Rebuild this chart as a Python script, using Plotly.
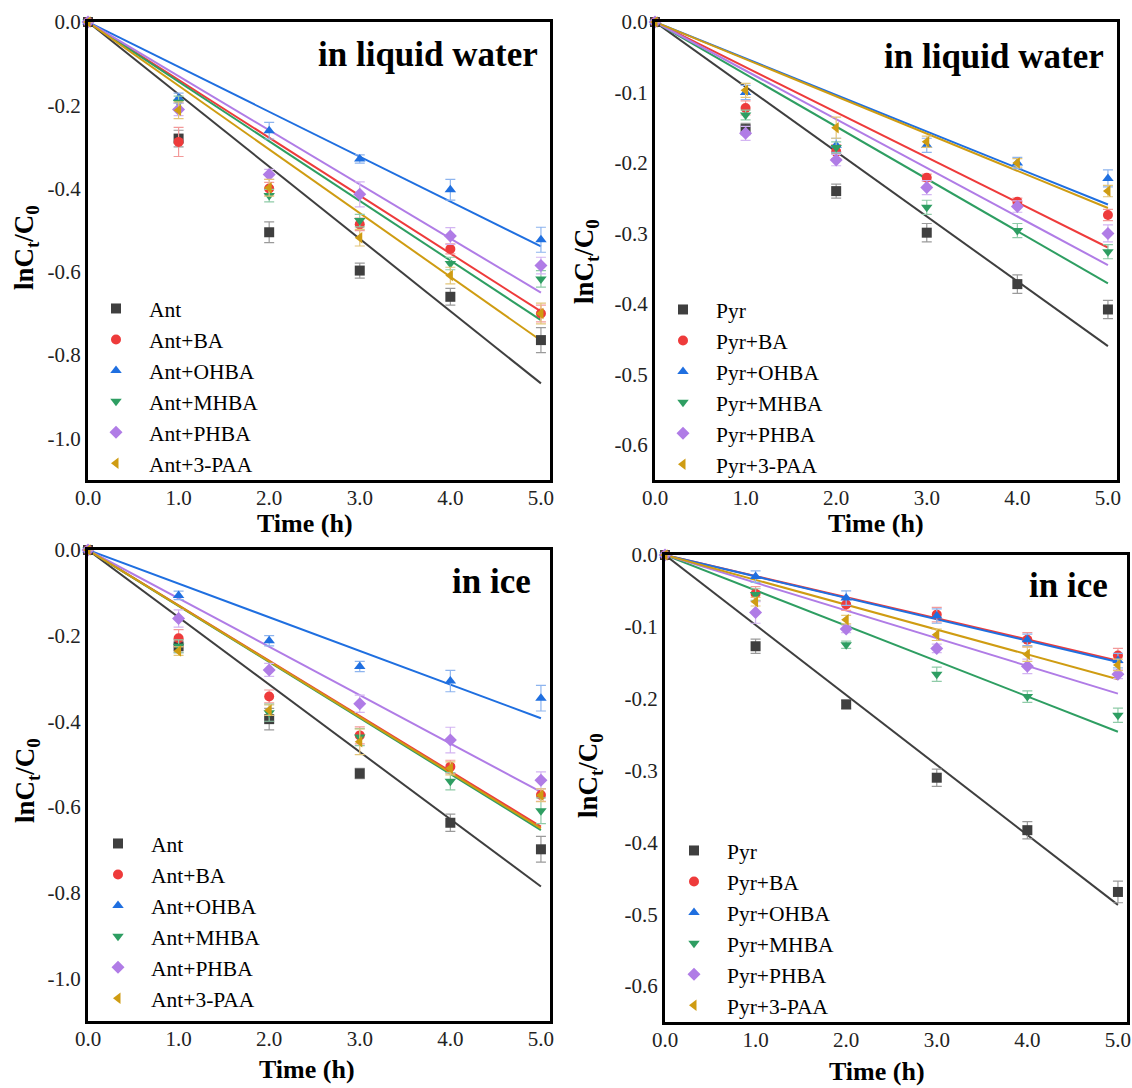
import plotly.graph_objects as go

# ---------------- data ----------------
t = [0, 1, 2, 3, 4, 5]
fit_t = [0, 5]

x_tickvals = [0, 1, 2, 3, 4, 5]
x_ticktext = ["0.0", "1.0", "2.0", "3.0", "4.0", "5.0"]
y_tick_ant = [0, -0.2, -0.4, -0.6, -0.8, -1.0]
y_text_ant = ["0.0", "-0.2", "-0.4", "-0.6", "-0.8", "-1.0"]
y_tick_pyr = [0, -0.1, -0.2, -0.3, -0.4, -0.5, -0.6]
y_text_pyr = ["0.0", "-0.1", "-0.2", "-0.3", "-0.4", "-0.5", "-0.6"]

suffixes = ["", "+BA", "+OHBA", "+MHBA", "+PHBA", "+3-PAA"]
x_title = "<b>Time (h)</b>"
y_title = "<b>lnC<sub>t</sub>/C<sub>0</sub></b>"

# Panel 1: Ant in liquid water
ant_water_Ant = [0, -0.280, -0.505, -0.597, -0.660, -0.764]
ant_water_BA = [0, -0.288, -0.400, -0.486, -0.545, -0.700]
ant_water_OHBA = [0, -0.183, -0.261, -0.329, -0.403, -0.523]
ant_water_MHBA = [0, -0.193, -0.417, -0.477, -0.580, -0.617]
ant_water_PHBA = [0, -0.210, -0.366, -0.414, -0.514, -0.585]
ant_water_PAA = [0, -0.212, -0.398, -0.518, -0.609, -0.700]
ant_water_err = [
    [0, 0.020, 0.025, 0.018, 0.020, 0.030],
    [0, 0.035, 0.015, 0.015, 0.012, 0.020],
    [0, 0.012, 0.020, 0.010, 0.025, 0.030],
    [0, 0.015, 0.015, 0.015, 0.015, 0.020],
    [0, 0.015, 0.012, 0.030, 0.020, 0.020],
    [0, 0.020, 0.020, 0.020, 0.020, 0.025],
]
ant_water_fit_end = [-0.868, -0.695, -0.539, -0.716, -0.650, -0.765]

# Panel 2: Pyr in liquid water
pyr_water_Pyr = [0, -0.152, -0.240, -0.299, -0.372, -0.408]
pyr_water_BA = [0, -0.122, -0.184, -0.221, -0.255, -0.274]
pyr_water_OHBA = [0, -0.100, -0.175, -0.175, -0.200, -0.222]
pyr_water_MHBA = [0, -0.132, -0.178, -0.263, -0.296, -0.326]
pyr_water_PHBA = [0, -0.158, -0.196, -0.235, -0.262, -0.300]
pyr_water_PAA = [0, -0.097, -0.150, -0.170, -0.200, -0.240]
pyr_water_err = [
    [0, 0.008, 0.010, 0.013, 0.013, 0.013],
    [0, 0.010, 0.010, 0.005, 0.005, 0.008],
    [0, 0.010, 0.010, 0.010, 0.008, 0.012],
    [0, 0.007, 0.008, 0.010, 0.010, 0.010],
    [0, 0.010, 0.008, 0.010, 0.008, 0.012],
    [0, 0.010, 0.015, 0.008, 0.006, 0.008],
]
pyr_water_fit_end = [-0.460, -0.320, -0.259, -0.371, -0.345, -0.264]

# Panel 3: Ant in ice
ant_ice_Ant = [0, -0.225, -0.395, -0.522, -0.637, -0.699]
ant_ice_BA = [0, -0.206, -0.342, -0.433, -0.506, -0.572]
ant_ice_OHBA = [0, -0.106, -0.212, -0.272, -0.306, -0.346]
ant_ice_MHBA = [0, -0.225, -0.380, -0.437, -0.540, -0.609]
ant_ice_PHBA = [0, -0.160, -0.280, -0.359, -0.444, -0.538]
ant_ice_PAA = [0, -0.236, -0.374, -0.448, -0.510, -0.573]
ant_ice_err = [
    [0, 0.015, 0.025, 0.012, 0.020, 0.030],
    [0, 0.020, 0.015, 0.020, 0.015, 0.015],
    [0, 0.010, 0.012, 0.012, 0.025, 0.030],
    [0, 0.015, 0.020, 0.020, 0.020, 0.030],
    [0, 0.020, 0.015, 0.020, 0.030, 0.020],
    [0, 0.010, 0.012, 0.030, 0.015, 0.015],
]
ant_ice_fit_end = [-0.786, -0.646, -0.393, -0.654, -0.565, -0.650]

# Panel 4: Pyr in ice
pyr_ice_Pyr = [0, -0.127, -0.208, -0.310, -0.383, -0.469]
pyr_ice_BA = [0, -0.054, -0.069, -0.083, -0.118, -0.140]
pyr_ice_OHBA = [0, -0.030, -0.060, -0.085, -0.118, -0.147]
pyr_ice_MHBA = [0, -0.055, -0.125, -0.166, -0.197, -0.223]
pyr_ice_PHBA = [0, -0.080, -0.103, -0.130, -0.155, -0.166]
pyr_ice_PAA = [0, -0.065, -0.090, -0.111, -0.138, -0.153]
pyr_ice_err = [
    [0, 0.010, 0.006, 0.012, 0.012, 0.015],
    [0, 0.010, 0.008, 0.010, 0.010, 0.010],
    [0, 0.008, 0.010, 0.010, 0.008, 0.010],
    [0, 0.008, 0.005, 0.010, 0.008, 0.010],
    [0, 0.015, 0.005, 0.006, 0.010, 0.006],
    [0, 0.006, 0.006, 0.008, 0.010, 0.008],
]
pyr_ice_fit_end = [-0.487, -0.147, -0.149, -0.246, -0.193, -0.173]

# ---------------- style ----------------
colors = ["#3f3f3f", "#EE3B3B", "#1F6FE0", "#2E9E62", "#B07CE6", "#CF9C12"]
err_colors = ["#9a9a9a", "#F39A9A", "#8DB4EE", "#8FCBA8", "#D3B5F2", "#E4C67A"]
symbols = ["square", "circle", "triangle-up", "triangle-down", "diamond", "triangle-left"]
FONT = "Liberation Serif"
W, H = 1132, 1088

panels = [
    dict(prefix="Ant", series=[ant_water_Ant, ant_water_BA, ant_water_OHBA, ant_water_MHBA, ant_water_PHBA, ant_water_PAA],
         err=ant_water_err, fit=ant_water_fit_end, yr=[-1.1, 0], yt=y_tick_ant, ytt=y_text_ant,
         box=(88, 550, 22, 480), label="in liquid water", lx=0.978, ly=0.928,
         leg=(83, 288), xt=(305, 523), yt_pos=(26, 248)),
    dict(prefix="Pyr", series=[pyr_water_Pyr, pyr_water_BA, pyr_water_OHBA, pyr_water_MHBA, pyr_water_PHBA, pyr_water_PAA],
         err=pyr_water_err, fit=pyr_water_fit_end, yr=[-0.65, 0], yt=y_tick_pyr, ytt=y_text_pyr,
         box=(655, 1117, 22, 480), label="in liquid water", lx=0.976, ly=0.924,
         leg=(650, 289), xt=(876, 523), yt_pos=(586, 262)),
    dict(prefix="Ant", series=[ant_ice_Ant, ant_ice_BA, ant_ice_OHBA, ant_ice_MHBA, ant_ice_PHBA, ant_ice_PAA],
         err=ant_ice_err, fit=ant_ice_fit_end, yr=[-1.1, 0], yt=y_tick_ant, ytt=y_text_ant,
         box=(88, 550, 550, 1021), label="in ice", lx=0.963, ly=0.934,
         leg=(85, 823), xt=(307, 1069), yt_pos=(27, 781)),
    dict(prefix="Pyr", series=[pyr_ice_Pyr, pyr_ice_BA, pyr_ice_OHBA, pyr_ice_MHBA, pyr_ice_PHBA, pyr_ice_PAA],
         err=pyr_ice_err, fit=pyr_ice_fit_end, yr=[-0.65, 0], yt=y_tick_pyr, ytt=y_text_pyr,
         box=(665, 1127, 555, 1022), label="in ice", lx=0.963, ly=0.934,
         leg=(661, 830), xt=(877, 1071), yt_pos=(590, 776)),
]

fig = go.Figure()
layout = dict(
    width=W, height=H, margin=dict(l=0, r=0, t=0, b=0, autoexpand=False),
    paper_bgcolor="white", plot_bgcolor="white", showlegend=True,
    font=dict(family=FONT, color="black"),
    annotations=[],
)

for i, p in enumerate(panels):
    n = i + 1
    xa = "x" if n == 1 else f"x{n}"
    ya = "y" if n == 1 else f"y{n}"
    leg = "legend" if n == 1 else f"legend{n}"
    for j in range(6):
        fig.add_trace(go.Scatter(
            x=fit_t, y=[0, p["fit"][j]], mode="lines",
            line=dict(color=colors[j], width=2), xaxis=xa, yaxis=ya,
            showlegend=False, hoverinfo="skip", legend=leg, legendgroup=f"{n}-{j}",
        ))
    for j in range(6):
        fig.add_trace(go.Scatter(
            x=t, y=p["series"][j], mode="markers", name=p["prefix"] + suffixes[j],
            marker=dict(symbol=symbols[j], color=colors[j], size=10, line=dict(width=0)),
            error_y=dict(type="data", array=p["err"][j], visible=True, color=err_colors[j], thickness=1.2, width=5),
            xaxis=xa, yaxis=ya, legend=leg, legendgroup=f"{n}-{j}", cliponaxis=False,
        ))
    x0, x1, y0, y1 = p["box"]
    axis_common = dict(showline=True, linewidth=3, linecolor="black", mirror=True, showgrid=False,
                       zeroline=False, ticks="", automargin=False,
                       tickfont=dict(family=FONT, size=21, color="#222"))
    layout["xaxis" if n == 1 else f"xaxis{n}"] = dict(
        domain=[x0 / W, x1 / W], anchor=ya, range=[0, 5.1], tickvals=x_tickvals, ticktext=x_ticktext,
        ticklabelstandoff=-3, **axis_common)
    layout["yaxis" if n == 1 else f"yaxis{n}"] = dict(
        domain=[1 - y1 / H, 1 - y0 / H], anchor=xa, range=p["yr"], tickvals=p["yt"], ticktext=p["ytt"],
        ticklabelstandoff=0, **axis_common)
    lgx, lgy = p["leg"]
    layout[leg] = dict(x=lgx / W, y=1 - lgy / H, xanchor="left", yanchor="top",
                       bgcolor="rgba(0,0,0,0)", font=dict(family=FONT, size=21.5),
                       tracegroupgap=0, itemwidth=56)
    layout["annotations"].append(dict(
        text=f"<b>{p['label']}</b>", xref=f"{xa} domain", yref=f"{ya} domain",
        x=p["lx"], y=p["ly"], xanchor="right", yanchor="middle", showarrow=False,
        font=dict(family=FONT, size=35, color="black")))
    layout["annotations"].append(dict(
        text=x_title, xref="paper", yref="paper", x=p["xt"][0] / W, y=1 - p["xt"][1] / H,
        xanchor="center", yanchor="middle", showarrow=False,
        font=dict(family=FONT, size=26, color="black")))
    layout["annotations"].append(dict(
        text=y_title, xref="paper", yref="paper", x=p["yt_pos"][0] / W, y=1 - p["yt_pos"][1] / H,
        xanchor="center", yanchor="middle", textangle=-90, showarrow=False,
        font=dict(family=FONT, size=27, color="black")))

fig.update_layout(**layout)
fig.write_html("out.html")
